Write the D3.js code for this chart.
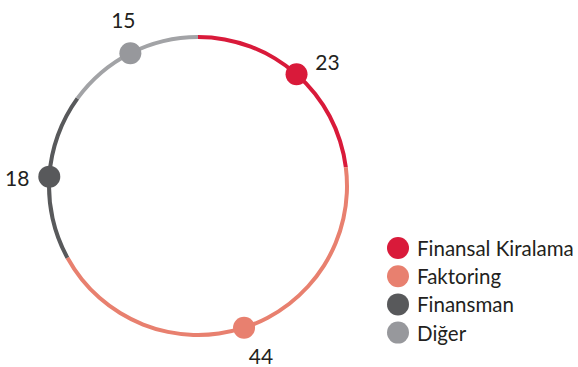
<!DOCTYPE html>
<html>
<head>
<meta charset="utf-8">
<script src="https://cdn.jsdelivr.net/npm/d3@7"></script>
<style>
  html, body { margin: 0; padding: 0; background: #fff; }
  svg text { font-family: Lato, "Open Sans", sans-serif; fill: #231f20; }
</style>
</head>
<body>
<svg id="chart" width="578" height="367"></svg>
<script>
// Portfolio split by business line
const categories = ["Finansal Kiralama", "Faktoring", "Finansman", "Diğer"];
const values = [23, 44, 18, 15];
const colors = ["#d91a3a", "#e8806f", "#58595b", "#97989c"];
const ringColors = ["#d91a3a", "#e8806f", "#58595b", "#a2a3a6"];

const svg = d3.select("#chart");
const cx = 198, cy = 186, r = 149;

const pie = d3.pie().sort(null).value(d => d)(values);
const arc = d3.arc().innerRadius(r - 2).outerRadius(r + 2);

const g = svg.append("g").attr("transform", `translate(${cx},${cy})`);

g.selectAll("path.seg")
  .data(pie)
  .join("path")
  .attr("class", "seg")
  .attr("d", arc)
  .attr("fill", (d, i) => ringColors[i]);

// dot at the middle of each segment, on the ring
const mid = d => (d.startAngle + d.endAngle) / 2;
const pos = d => [r * Math.sin(mid(d)), -r * Math.cos(mid(d))];

g.selectAll("circle.dot")
  .data(pie)
  .join("circle")
  .attr("class", "dot")
  .attr("cx", d => pos(d)[0])
  .attr("cy", d => pos(d)[1])
  .attr("r", 11)
  .attr("fill", (d, i) => colors[i]);

// value labels beside the dots
const labelOffset = [[31, -13], [17, 28], [-32, 1], [-7, -34]];
g.selectAll("text.val")
  .data(pie)
  .join("text")
  .attr("class", "val")
  .attr("x", (d, i) => pos(d)[0] + labelOffset[i][0])
  .attr("y", (d, i) => pos(d)[1] + labelOffset[i][1])
  .attr("text-anchor", "middle")
  .attr("dominant-baseline", "central")
  .attr("font-size", 21)
  .text(d => d.data);

// legend
const legend = svg.append("g").attr("transform", "translate(398,248)");
const row = legend.selectAll("g")
  .data(categories)
  .join("g")
  .attr("transform", (d, i) => `translate(0,${i * 28.2})`);
row.append("circle").attr("r", 11).attr("fill", (d, i) => colors[i]);
row.append("text")
  .attr("x", 19)
  .attr("dominant-baseline", "central")
  .attr("font-size", 20.5)
  .text(d => d);
</script>
</body>
</html>
